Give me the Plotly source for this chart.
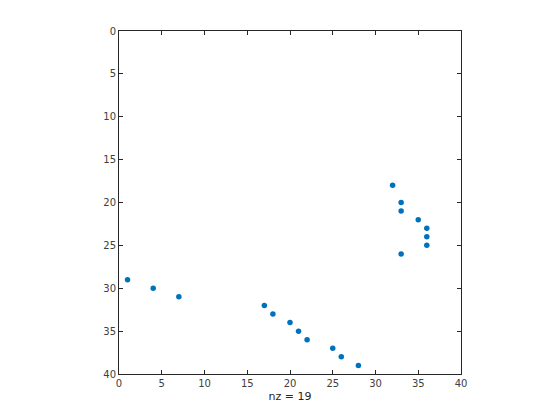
import plotly.graph_objects as go

cols = [32, 33, 33, 35, 36, 36, 36, 33, 1, 4, 7, 17, 18, 20, 21, 22, 25, 26, 28]
rows = [18, 20, 21, 22, 23, 24, 25, 26, 29, 30, 31, 32, 33, 34, 35, 36, 37, 38, 39]
xlabel = "nz = 19"
ticks = [0, 5, 10, 15, 20, 25, 30, 35, 40]

fig = go.Figure()
fig.add_trace(go.Scatter(x=cols, y=rows, mode="markers",
                         marker=dict(color="#0072BD", size=5.5, line=dict(width=0)),
                         hoverinfo="skip"))

axis_common = dict(range=[0, 40], tickvals=ticks, ticktext=[str(t) for t in ticks],
                   ticks="inside", ticklen=4, tickwidth=1, tickcolor="#262626",
                   showline=True, linecolor="#262626", linewidth=1, mirror="ticks",
                   showgrid=False, zeroline=False,
                   tickfont=dict(family="DejaVu Sans", size=10, color="#404040"))

fig.update_layout(
    width=560, height=420,
    margin=dict(l=111, r=107, t=23, b=54),
    paper_bgcolor="white", plot_bgcolor="white",
    showlegend=False,
    xaxis=dict(**axis_common,
               title=dict(text=xlabel, font=dict(family="DejaVu Sans", size=11, color="#262626"),
                          standoff=4)),
    yaxis=dict(**{**axis_common, "range": [40, 0]}),
)
fig.write_html("out.html")
